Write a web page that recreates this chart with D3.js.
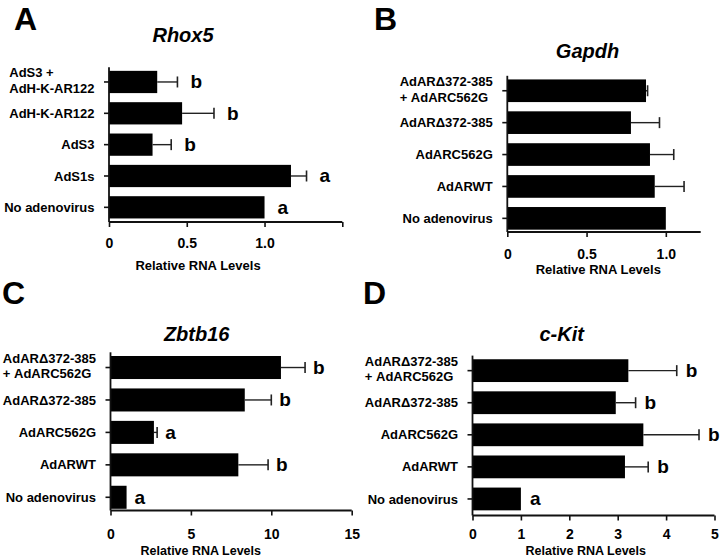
<!DOCTYPE html>
<html>
<head>
<meta charset="utf-8">
<script src="https://cdn.jsdelivr.net/npm/d3@7"></script>
<style>
  html, body { margin: 0; padding: 0; background: #fff; }
  svg { display: block; }
  text { font-family: "Liberation Sans", Arial, Helvetica, sans-serif; font-weight: bold; fill: #000; }
</style>
</head>
<body>
<svg id="chart" width="720" height="558"></svg>
<script>
// ---------------- DATA ----------------
const categoriesA = ["AdS3 +\nAdH-K-AR122", "AdH-K-AR122", "AdS3", "AdS1s", "No adenovirus"];
const valuesA = [0.31, 0.47, 0.28, 1.17, 1.0];
const errorsA = [0.13, 0.205, 0.12, 0.10, 0];
const lettersA = ["b", "b", "b", "a", "a"];
const ticksA = [0, 0.5, 1.0, 1.5];
const tickLabelsA = ["0", "0.5", "1.0", ""];

const categoriesBCD = ["AdAR\u0394372-385\n+ AdARC562G", "AdAR\u0394372-385", "AdARC562G", "AdARWT", "No adenovirus"];

const valuesB = [0.875, 0.78, 0.90, 0.93, 1.0];
const errorsB = [0.01, 0.18, 0.15, 0.185, 0];
const lettersB = ["", "", "", "", ""];
const ticksB = [0, 0.5, 1.0];
const tickLabelsB = ["0", "0.5", "1.0"];

const valuesC = [10.6, 8.35, 2.7, 7.95, 1.0];
const errorsC = [1.5, 1.65, 0.2, 1.85, 0];
const lettersC = ["b", "b", "a", "b", "a"];
const ticksC = [0, 5, 10, 15];
const tickLabelsC = ["0", "5", "10", "15"];

const valuesD = [3.22, 2.96, 3.53, 3.15, 1.0];
const errorsD = [1.0, 0.41, 1.15, 0.48, 0];
const lettersD = ["b", "b", "b", "b", "a"];
const ticksD = [0, 1, 2, 3, 4, 5];
const tickLabelsD = ["0", "1", "2", "3", "4", "5"];

const panelLetters = ["A", "B", "C", "D"];
const geneTitles = ["Rhox5", "Gapdh", "Zbtb16", "c-Kit"];
const xAxisTitle = "Relative RNA Levels";

// ---------------- LAYOUT (style only) ----------------
const layouts = [
  { x0: 109, x1: 342.3, xmax: 1.5, yTop: 66.3, yBot: 223, axisY: 222, tickPad: 11, tickFont: 14,
    title: [183, 42.3], xlab: [198, 270], xlabFont: 13, letter: [14, 30], sigGap: 13 },
  { x0: 507.3, x1: 700.7, xmax: 1.22, yTop: 74.8, yBot: 234.3, axisY: 232, tickPad: 12, tickFont: 14,
    title: [587.5, 57.7], xlab: [598.3, 273.5], xlabFont: 13, letter: [374, 30], sigGap: 10 },
  { x0: 110.5, x1: 351.7, xmax: 15, yTop: 351.3, yBot: 513.5, axisY: 510.5, tickPad: 14, tickFont: 14,
    title: [196.7, 340.5], xlab: [200.8, 555.3], xlabFont: 12.5, letter: [2, 304], sigGap: 8 },
  { x0: 472.5, x1: 714.5, xmax: 5, yTop: 354.6, yBot: 515, axisY: 515.5, tickPad: 9, tickFont: 14,
    title: [561.7, 341], xlab: [585.8, 555.3], xlabFont: 12.5, letter: [363, 304], sigGap: 9 }
];

const panelData = [
  { cats: categoriesA, vals: valuesA, errs: errorsA, sig: lettersA, ticks: ticksA, tickLabels: tickLabelsA },
  { cats: categoriesBCD, vals: valuesB, errs: errorsB, sig: lettersB, ticks: ticksB, tickLabels: tickLabelsB },
  { cats: categoriesBCD, vals: valuesC, errs: errorsC, sig: lettersC, ticks: ticksC, tickLabels: tickLabelsC },
  { cats: categoriesBCD, vals: valuesD, errs: errorsD, sig: lettersD, ticks: ticksD, tickLabels: tickLabelsD }
];

const svg = d3.select("#chart");

panelData.forEach((pd, pi) => {
  const L = layouts[pi];
  const g = svg.append("g");

  const x = d3.scaleLinear().domain([0, L.xmax]).range([L.x0, L.x1]);
  const y = d3.scaleBand().domain(pd.cats).range([L.yTop, L.yBot])
    .paddingInner(0.29).paddingOuter(0.145);

  const rows = pd.cats.map((c, i) => ({ c, v: pd.vals[i], e: pd.errs[i], s: pd.sig[i] }));

  // bars
  g.selectAll("rect.bar").data(rows).join("rect")
    .attr("class", "bar")
    .attr("x", x(0))
    .attr("y", d => y(d.c))
    .attr("width", d => x(d.v) - x(0))
    .attr("height", y.bandwidth())
    .attr("fill", "#000");

  // error bars (upper only)
  const eb = rows.filter(d => d.e > 0);
  g.selectAll("line.err").data(eb).join("line")
    .attr("x1", d => x(d.v)).attr("x2", d => x(d.v + d.e))
    .attr("y1", d => y(d.c) + y.bandwidth() / 2).attr("y2", d => y(d.c) + y.bandwidth() / 2)
    .attr("stroke", "#222").attr("stroke-width", 1.4);
  g.selectAll("line.cap").data(eb).join("line")
    .attr("x1", d => x(d.v + d.e)).attr("x2", d => x(d.v + d.e))
    .attr("y1", d => y(d.c) + y.bandwidth() / 2 - 5.5).attr("y2", d => y(d.c) + y.bandwidth() / 2 + 5.5)
    .attr("stroke", "#222").attr("stroke-width", 1.6);

  // significance letters
  g.selectAll("text.sig").data(rows.filter(d => d.s)).join("text")
    .attr("x", d => x(d.v + d.e) + L.sigGap)
    .attr("y", d => y(d.c) + y.bandwidth() / 2 + 6.5)
    .style("font-size", "19px")
    .text(d => d.s);

  // x axis
  const xAxis = d3.axisBottom(x).tickValues(pd.ticks)
    .tickFormat((d, i) => pd.tickLabels[i]).tickSize(5).tickSizeOuter(0).tickPadding(L.tickPad);
  const gx = g.append("g").attr("transform", `translate(0,${L.axisY})`).call(xAxis);
  gx.select(".domain").attr("d", `M${L.x0},0H${L.x1}`).attr("stroke", "#111").attr("stroke-width", 1.8);
  gx.selectAll(".tick line").attr("stroke", "#111").attr("stroke-width", 1.6);
  gx.selectAll(".tick text").style("font-size", L.tickFont + "px")
    .style("font-family", "'Liberation Sans', Arial, sans-serif").style("font-weight", "bold").attr("fill", "#000");

  // y axis
  const yAxis = d3.axisLeft(y).tickSize(5).tickSizeOuter(0).tickFormat("");
  const gy = g.append("g").attr("transform", `translate(${L.x0},0)`).call(yAxis);
  gy.select(".domain").attr("d", `M0,${L.yTop + 1}V${L.axisY}`).attr("stroke", "#111").attr("stroke-width", 1.8);
  gy.selectAll(".tick line").attr("stroke", "#111").attr("stroke-width", 1.6);

  // y tick labels: block right-aligned to axis, lines left-aligned within block
  const lh = 15.5;
  pd.cats.forEach(c => {
    const lines = c.split("\n");
    const cy = y(c) + y.bandwidth() / 2;
    const t = g.append("text").style("font-size", "13px");
    lines.forEach((ln, li) => {
      t.append("tspan").attr("y", cy + (li - (lines.length - 1) / 2) * lh + 4.6 - (lines.length > 1 ? 1.5 : 0)).text(ln);
    });
    const widths = [];
    t.selectAll("tspan").each(function () { widths.push(this.getComputedTextLength()); });
    const maxW = d3.max(widths);
    t.selectAll("tspan").attr("x", L.x0 - 14.5 - maxW);
  });

  // title
  g.append("text").attr("x", L.title[0]).attr("y", L.title[1])
    .attr("text-anchor", "middle").style("font-size", "20px").style("font-style", "italic")
    .text(geneTitles[pi]);

  // x axis title
  g.append("text").attr("x", L.xlab[0]).attr("y", L.xlab[1])
    .attr("text-anchor", "middle").style("font-size", L.xlabFont + "px")
    .text(xAxisTitle);

  // panel letter
  g.append("text").attr("x", L.letter[0]).attr("y", L.letter[1])
    .style("font-size", "32px")
    .text(panelLetters[pi]);
});
</script>
</body>
</html>
